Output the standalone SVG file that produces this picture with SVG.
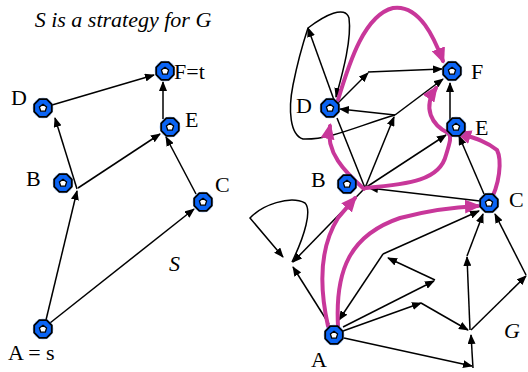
<svg xmlns="http://www.w3.org/2000/svg" xmlns:xlink="http://www.w3.org/1999/xlink" width="528" height="372" viewBox="0 0 528 372">
<style>
.e{fill:none;stroke:#000;stroke-width:1.5;marker-end:url(#ah)}
.n{fill:none;stroke:#000;stroke-width:1.5}
.m{fill:none;stroke:#c8379a;stroke-width:4;stroke-linecap:round;marker-end:url(#mh)}
.t{font-family:"Liberation Serif","Times New Roman",serif;font-size:22px;fill:#000}
.i{font-style:italic}
</style>
<defs>
<marker id="ah" markerWidth="10" markerHeight="8" refX="9" refY="4" orient="auto" markerUnits="userSpaceOnUse"><path d="M0,0 L10,4 L0,8 z" fill="#000"/></marker>
<marker id="mh" markerWidth="16" markerHeight="14" refX="13" refY="7" orient="auto" markerUnits="userSpaceOnUse"><path d="M0,0 L16,7 L0,14 z" fill="#c8379a"/></marker>
<g id="node">
<circle r="10.5" fill="#4a90ff" opacity="0.45"/>
<polygon points="8.8,3.65 3.65,8.8 -3.65,8.8 -8.8,3.65 -8.8,-3.65 -3.65,-8.8 3.65,-8.8 8.8,-3.65" fill="#0a64f5" stroke="#000" stroke-width="1.8"/>
<polygon points="0,-3.8 3.6,-1 2.3,3.2 -2.3,3.2 -3.6,-1" fill="#fff" stroke="#000" stroke-width="1.3"/>
</g>
</defs>
<rect width="528" height="372" fill="#fff"/>
<text class="t i" x="123" y="27" text-anchor="middle" font-size="21">S is a strategy for G</text>
<g id="connectors">
<path class="e" d="M52,105 L154,75"/>
<path class="e" d="M163,119 L163,82"/>
<path class="e" d="M46,320 L77,191"/>
<path class="e" d="M77,189 L55,118"/>
<path class="e" d="M78,188 L160,134"/>
<path class="e" d="M196,194 L166,137"/>
<path class="e" d="M50,323 L194,209"/>
<path class="n" d="M365,188 L337,118"/>
<path class="e" d="M365,188 L394,117"/>
<path class="e" d="M395,115 L340,109"/>
<path class="e" d="M395,115 L443,79"/>
<path class="e" d="M338,103 L368,73"/>
<path class="e" d="M368,72 L442,69"/>
<path class="e" d="M334,100 L308,28"/>
<path class="e" d="M308,28 C325,15 345,5 349,18 C352,40 342,75 336,97"/>
<path class="n" d="M395,115 C360,125 330,140 303,139 C290,135 288,110 293,85 C298,60 304,40 308,28"/>
<path class="e" d="M365,188 L446,135"/>
<path class="e" d="M480,201 L369,188"/>
<path class="e" d="M484,194 L459,136"/>
<path class="e" d="M450,120 L450,83"/>
<path class="e" d="M365,188 L293,262"/>
<path class="e" d="M292,262 C305,235 312,210 305,203 C290,195 262,205 250,218 L283,257"/>
<path class="e" d="M329,324 L293,267"/>
<path class="e" d="M383,254 L339,320"/>
<path class="e" d="M383,254 L479,211"/>
<path class="e" d="M435,280 L388,258"/>
<path class="e" d="M343,327 L434,281"/>
<path class="e" d="M343,331 L421,303"/>
<path class="e" d="M421,303 L468,330"/>
<path class="e" d="M344,338 L472,366"/>
<path class="e" d="M473,368 L471,335"/>
<path class="e" d="M470,330 L467,257"/>
<path class="e" d="M467,256 L483,214"/>
<path class="e" d="M471,330 L526,276"/>
<path class="e" d="M526,275 L495,214"/>
<path class="m" d="M328,326 C320,290 318,250 338,218 L355,198"/>
<path class="m" d="M338,326 C335,270 350,235 400,218 C430,210 455,207 478,206"/>
<path class="m" d="M364,189 C345,172 325,152 330,126"/>
<path class="m" d="M338,100 C350,60 365,15 393,8 C420,4 435,40 443,61"/>
<path class="m" d="M366,188 C410,184 440,180 446,155 C450,142 452,136 448,133 C432,125 422,108 436,88"/>
<path class="m" d="M489,203 C500,185 502,160 497,150 C485,140 470,137 458,133"/>
</g>
<g id="L_F"><use xlink:href="#node" x="165" y="71"/><text class="t" x="174" y="79">F=t</text></g>
<g id="L_D"><use xlink:href="#node" x="43" y="108"/><text class="t" x="11" y="105">D</text></g>
<g id="L_E"><use xlink:href="#node" x="170" y="127"/><text class="t" x="185" y="127">E</text></g>
<g id="L_B"><use xlink:href="#node" x="63" y="183"/><text class="t" x="26" y="186">B</text></g>
<g id="L_C"><use xlink:href="#node" x="203" y="202"/><text class="t" x="215" y="192">C</text></g>
<g id="L_A"><use xlink:href="#node" x="43" y="329"/><text class="t" x="8" y="360">A = s</text></g>
<text class="t i" x="169" y="271">S</text>
<g id="R_F"><use xlink:href="#node" x="452" y="71"/><text class="t" x="471" y="79">F</text></g>
<g id="R_D"><use xlink:href="#node" x="330" y="108"/><text class="t" x="296" y="113">D</text></g>
<g id="R_E"><use xlink:href="#node" x="456" y="127"/><text class="t" x="475" y="135">E</text></g>
<g id="R_B"><use xlink:href="#node" x="347" y="184"/><text class="t" x="311" y="187">B</text></g>
<g id="R_C"><use xlink:href="#node" x="489" y="203"/><text class="t" x="509" y="207">C</text></g>
<g id="R_A"><use xlink:href="#node" x="334" y="335"/><text class="t" x="311" y="367">A</text></g>
<text class="t i" x="504" y="338">G</text>
</svg>
